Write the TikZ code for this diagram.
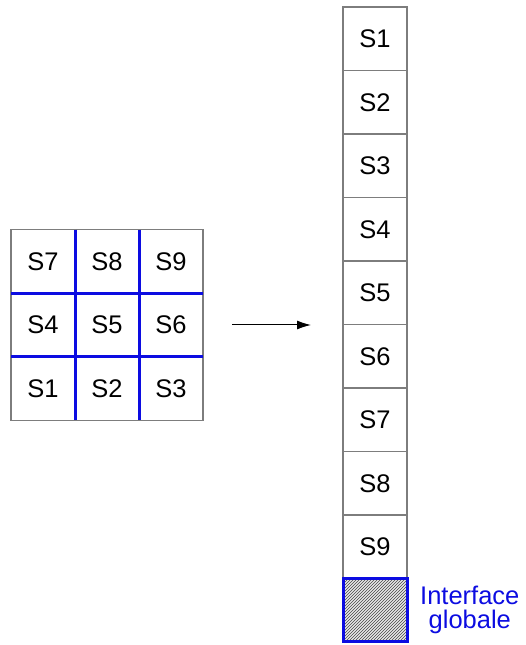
\documentclass[tikz,border=0pt]{standalone}
\usepackage{fontspec}
\setmainfont{Liberation Sans}
\usetikzlibrary{arrows.meta,positioning,patterns}
\definecolor{sblue}{RGB}{12,12,225}
\definecolor{sgray}{RGB}{125,125,125}

\begin{document}
\begin{tikzpicture}[x=1pt,y=1pt,node distance=0pt,font=\fontsize{25.5}{24}\selectfont,
  cell/.style={draw=sgray,line width=1.1pt,minimum width=64pt,minimum height=63.5pt,inner sep=0pt,outer sep=0pt},
  bline/.style={draw=sblue,line width=3pt},
  iface/.style={cell,draw=sblue,line width=3pt,preaction={fill=gray!18},pattern=north east lines,pattern color=gray!55!black}]
\useasboundingbox (0,0) rectangle (526,645);
% 3x3 subdomains
\node[cell] (g5) at (107,320) {S5};
\node[cell,left=of g5] (g4) {S4};
\node[cell,right=of g5] (g6) {S6};
\node[cell,above=of g4] (g7) {S7};
\node[cell,above=of g5] (g8) {S8};
\node[cell,above=of g6] (g9) {S9};
\node[cell,below=of g4] (g1) {S1};
\node[cell,below=of g5] (g2) {S2};
\node[cell,below=of g6] (g3) {S3};
\draw[bline] (g7.north east) -- (g1.south east);
\draw[bline] (g8.north east) -- (g2.south east);
\draw[bline] (g4.north west) -- (g6.north east);
\draw[bline] (g1.north west) -- (g3.north east);
% stacked subdomains
\node[cell] (c1) at (375,606.25) {S1};
\node[cell,below=of c1] (c2) {S2};
\node[cell,below=of c2] (c3) {S3};
\node[cell,below=of c3] (c4) {S4};
\node[cell,below=of c4] (c5) {S5};
\node[cell,below=of c5] (c6) {S6};
\node[cell,below=of c6] (c7) {S7};
\node[cell,below=of c7] (c8) {S8};
\node[cell,below=of c8] (c9) {S9};
\node[iface,below=of c9] (box) {};
\node[right=11pt of box,align=center,text=sblue,inner sep=2pt] (lbl) {Interface\\globale};
\draw[-{Latex[length=14pt,width=9pt]},line width=1pt,shorten <=29pt,shorten >=32pt] (g6.east) -- (g6.east -| c5.west);
\end{tikzpicture}
\end{document}
